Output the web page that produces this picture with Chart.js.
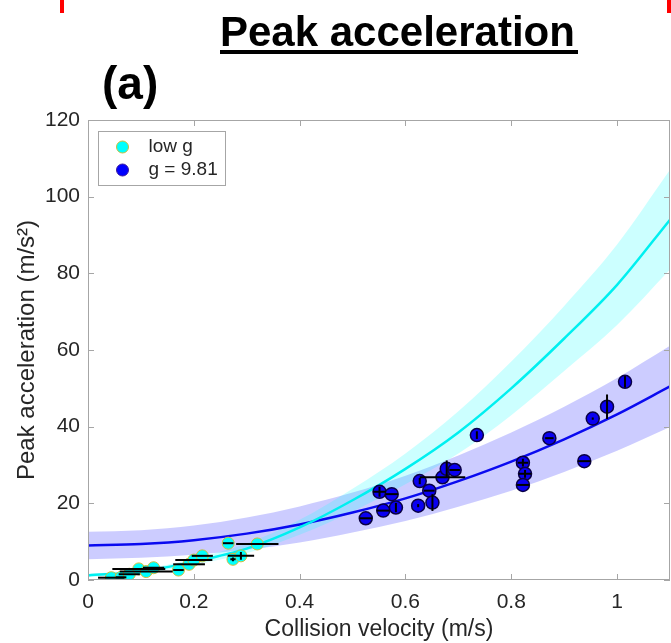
<!DOCTYPE html>
<html>
<head>
<meta charset="UTF-8">
<title>Peak acceleration</title>
<script src="https://cdn.jsdelivr.net/npm/chart.js"></script>
<style>
  body { margin: 0; background: #fff; font-family: "Liberation Sans", Arial, sans-serif; }
  #wrap { position: relative; width: 671px; height: 643px; }
  #plot { position: absolute; left: 0; top: 0; }
  .red { position: absolute; top: 0; width: 4px; height: 13px; background: #f00; }
  #title { position: absolute; left: 220px; top: 11px; font-size: 42px; font-weight: bold; line-height: 42px; color: #000; white-space: nowrap; }
  #uline { position: absolute; left: 220px; top: 50px; width: 358px; height: 4px; background: #000; }
  #panel { position: absolute; left: 102px; top: 60px; font-size: 46px; font-weight: bold; line-height: 46px; color: #000; }
</style>
</head>
<body>
<div id="wrap">
  <canvas id="plot" width="671" height="643"></canvas>
  <div class="red" style="left:60px"></div>
  <div class="red" style="left:667px"></div>
  <div id="title">Peak acceleration</div>
  <div id="uline"></div>
  <div id="panel">(a)</div>
</div>

<script>
// axis ticks
const xTicks = [0, 0.2, 0.4, 0.6, 0.8, 1];
const xTickLabels = ['0', '0.2', '0.4', '0.6', '0.8', '1'];
const yTicks = [0, 20, 40, 60, 80, 100, 120];

// fitted curves with confidence bands
const fitV = [0, 0.1, 0.2, 0.3, 0.4, 0.5, 0.6, 0.7, 0.8, 0.9, 1.0, 1.1];
const lowFit = [1.2, 2.2, 4.8, 8.2, 13.7, 20.8, 29, 38.5, 50, 63, 77, 94];
const lowUpper = [1.6, 2.7, 5.6, 9.5, 15.7, 23.8, 33, 44, 57, 71.5, 87.5, 107];
const lowLower = [0.8, 1.7, 4.0, 7.0, 11.8, 17.9, 25, 33, 43, 54.5, 66.5, 81];
const earthFit = [9.0, 9.4, 10.4, 12.1, 14.5, 17.6, 21.3, 25.8, 30.9, 36.7, 43.2, 50.5];
const earthUpper = [12.6, 13.0, 14.2, 16.3, 19.2, 22.8, 27.2, 32.5, 38.5, 45.2, 52.7, 61.1];
const earthLower = [5.4, 5.8, 6.6, 7.9, 9.8, 12.4, 15.4, 19.1, 23.3, 28.2, 33.7, 39.9];

// low g measurements
const lowV = [0.044, 0.0625, 0.078, 0.096, 0.11, 0.124, 0.171, 0.191, 0.2, 0.216, 0.265, 0.274, 0.289, 0.32];
const lowA = [0.6, 0.7, 1.5, 2.9, 2.2, 3.2, 2.6, 4.1, 5.2, 6.3, 9.6, 5.4, 6.3, 9.4];
const lowVErr = [0.025, 0.01, 0.02, 0.05, 0.05, 0.02, 0.01, 0.03, 0.035, 0.02, 0.01, 0.005, 0.025, 0.04];
const lowAErr = [0, 0, 0, 0, 0, 0, 0, 0, 0, 0, 0, 0.5, 1, 0];

// g = 9.81 measurements
const earthV = [0.525, 0.551, 0.558, 0.574, 0.582, 0.624, 0.627, 0.645, 0.651, 0.67, 0.678, 0.693, 0.735,
                0.822, 0.826, 0.822, 0.872, 0.938, 0.954, 0.981, 1.015];
const earthA = [16.1, 23.0, 18.1, 22.4, 18.9, 19.4, 25.8, 23.3, 20.2, 26.8, 29.0, 28.7, 37.8,
                30.6, 27.7, 24.8, 37.0, 31.0, 42.1, 45.2, 51.7];
const earthVErr = [0.012, 0.012, 0.012, 0.012, 0, 0, 0, 0.01, 0, 0.043, 0, 0.01, 0,
                   0.01, 0.012, 0.012, 0.008, 0.012, 0, 0, 0];
const earthAErr = [0, 1.3, 0, 0, 1.2, 0.4, 0.8, 0, 2.2, 0, 2.2, 0, 1.0,
                   1.0, 1.0, 0, 0, 0, 0.3, 3.2, 1.5];

const legendLabels = ['low g', 'g = 9.81'];

const pts = (xs, ys) => xs.map((x, i) => ({ x: x, y: ys[i] }));
const FONT = '"Liberation Sans", Arial, sans-serif';
const TXT = '#262626';
const AXC = '#a6a6a6';

const lowColor = '#00ffff', lowEdge = '#cdbd3a';
const earthColor = '#0a00f0', earthEdge = '#0a0045';

// MATLAB style box with inward ticks
const boxPlugin = {
  id: 'box',
  afterDatasetsDraw(chart) {
    const { ctx, chartArea: a, scales: { x, y } } = chart;
    ctx.save();
    ctx.strokeStyle = AXC;
    ctx.lineWidth = 1;
    ctx.strokeRect(a.left + 0.5, a.top + 0.5, a.right - a.left - 1, a.bottom - a.top - 1);
    ctx.beginPath();
    xTicks.forEach(v => {
      const px = Math.round(x.getPixelForValue(v)) + 0.5;
      ctx.moveTo(px, a.bottom); ctx.lineTo(px, a.bottom - 6);
      ctx.moveTo(px, a.top); ctx.lineTo(px, a.top + 6);
    });
    yTicks.forEach(v => {
      const py = Math.round(y.getPixelForValue(v)) + 0.5;
      ctx.moveTo(a.left, py); ctx.lineTo(a.left + 6, py);
      ctx.moveTo(a.right, py); ctx.lineTo(a.right - 6, py);
    });
    ctx.stroke();
    ctx.restore();
  }
};

// black error bars on top of the markers
const errPlugin = {
  id: 'errbars',
  afterDatasetsDraw(chart) {
    const { ctx, scales: { x, y } } = chart;
    ctx.save();
    ctx.strokeStyle = '#000';
    ctx.lineWidth = 2;
    const draw = (vs, as, ve, ae) => {
      vs.forEach((v, i) => {
        const px = x.getPixelForValue(v), py = y.getPixelForValue(as[i]);
        ctx.beginPath();
        if (ve[i] > 0) {
          ctx.moveTo(x.getPixelForValue(v - ve[i]), py);
          ctx.lineTo(x.getPixelForValue(v + ve[i]), py);
        }
        if (ae[i] > 0) {
          ctx.moveTo(px, y.getPixelForValue(as[i] - ae[i]));
          ctx.lineTo(px, y.getPixelForValue(as[i] + ae[i]));
        }
        ctx.stroke();
      });
    };
    draw(lowV, lowA, lowVErr, lowAErr);
    draw(earthV, earthA, earthVErr, earthAErr);
    ctx.restore();
  }
};

// legend box inside the axes, upper left
const legendPlugin = {
  id: 'boxLegend',
  afterDraw(chart) {
    const { ctx, chartArea: a } = chart;
    const bx = a.left + 10.5, by = a.top + 11.5, bw = 127, bh = 54;
    ctx.save();
    ctx.fillStyle = '#fff';
    ctx.strokeStyle = AXC;
    ctx.lineWidth = 1;
    ctx.fillRect(bx, by, bw, bh);
    ctx.strokeRect(bx, by, bw, bh);
    const marks = [[lowColor, lowEdge], ['#0000ff', '#3a1aa0']];
    ctx.font = '19px ' + FONT;
    ctx.textBaseline = 'middle';
    legendLabels.forEach((lab, i) => {
      const cy = by + 15.5 + i * 23;
      ctx.beginPath();
      ctx.arc(bx + 24, cy, 6, 0, Math.PI * 2);
      ctx.fillStyle = marks[i][0];
      ctx.fill();
      ctx.strokeStyle = marks[i][1];
      ctx.lineWidth = 1;
      ctx.stroke();
      ctx.fillStyle = TXT;
      ctx.fillText(lab, bx + 50, cy);
    });
    ctx.restore();
  }
};

const ctx = document.getElementById('plot').getContext('2d');
new Chart(ctx, {
  type: 'line',
  data: {
    datasets: [
      { label: legendLabels[0], data: pts(lowV, lowA), showLine: false, pointRadius: 6,
        pointBackgroundColor: lowColor, pointBorderColor: lowEdge, pointBorderWidth: 1 },
      { label: legendLabels[1], data: pts(earthV, earthA), showLine: false, pointRadius: 6.5,
        pointBackgroundColor: earthColor, pointBorderColor: earthEdge, pointBorderWidth: 1.5 },
      { label: 'low g fit', data: pts(fitV, lowFit), borderColor: '#00f0f0', borderWidth: 2.5,
        pointRadius: 0, cubicInterpolationMode: 'monotone', fill: false },
      { label: 'g fit', data: pts(fitV, earthFit), borderColor: '#0a0af0', borderWidth: 2.5,
        pointRadius: 0, cubicInterpolationMode: 'monotone', fill: false },
      { label: 'low g upper', data: pts(fitV, lowUpper), borderWidth: 0, pointRadius: 0,
        cubicInterpolationMode: 'monotone', fill: '+1', backgroundColor: 'rgba(0,255,255,0.2)' },
      { label: 'low g lower', data: pts(fitV, lowLower), borderWidth: 0, pointRadius: 0,
        cubicInterpolationMode: 'monotone', fill: false },
      { label: 'g upper', data: pts(fitV, earthUpper), borderWidth: 0, pointRadius: 0,
        cubicInterpolationMode: 'monotone', fill: '+1', backgroundColor: 'rgba(0,0,255,0.2)' },
      { label: 'g lower', data: pts(fitV, earthLower), borderWidth: 0, pointRadius: 0,
        cubicInterpolationMode: 'monotone', fill: false }
    ]
  },
  options: {
    responsive: false,
    animation: false,
    layout: { autoPadding: false, padding: { top: 120, right: 1, left: 0, bottom: 0 } },
    plugins: {
      legend: { display: false },
      tooltip: { enabled: false },
      title: { display: false }
    },
    scales: {
      x: {
        type: 'linear',
        min: 0, max: 1.1,
        afterBuildTicks: s => { s.ticks = xTicks.map(v => ({ value: v })); },
        afterFit: s => { s.height = 63; s.paddingLeft = 0; s.paddingRight = 0; },
        grid: { display: false, drawTicks: false },
        border: { display: false },
        ticks: {
          color: TXT, font: { family: FONT, size: 21 }, padding: 10,
          callback: (v, i) => xTickLabels[i]
        },
        title: { display: true, text: 'Collision velocity (m/s)', color: TXT,
                 font: { family: FONT, size: 23 }, padding: { top: 0, bottom: 0 } }
      },
      y: {
        min: 0, max: 120,
        afterBuildTicks: s => { s.ticks = yTicks.map(v => ({ value: v })); },
        afterFit: s => { s.width = 88; s.paddingTop = 0; s.paddingBottom = 0; },
        grid: { display: false, drawTicks: false },
        border: { display: false },
        ticks: { color: TXT, font: { family: FONT, size: 21 }, padding: 8 },
        title: { display: true, text: 'Peak acceleration (m/s²)', color: TXT,
                 font: { family: FONT, size: 24 }, padding: { top: 13, bottom: 0 } }
      }
    }
  },
  plugins: [boxPlugin, errPlugin, legendPlugin]
});
</script>
</body>
</html>
